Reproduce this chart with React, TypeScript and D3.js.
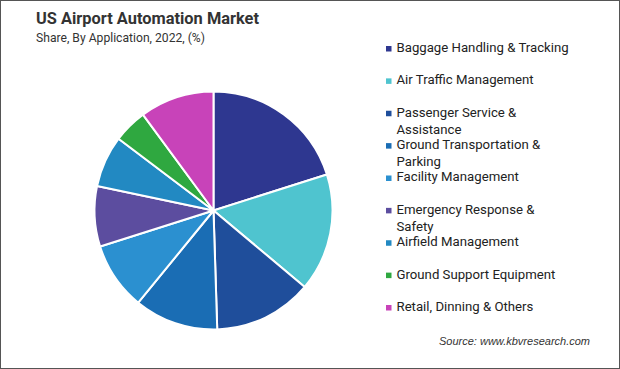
import React from 'react';
import * as d3 from 'd3';

const categories = [
  'Baggage Handling & Tracking',
  'Air Traffic Management',
  'Passenger Service & Assistance',
  'Ground Transportation & Parking',
  'Facility Management',
  'Emergency Response & Safety',
  'Airfield Management',
  'Ground Support Equipment',
  'Retail, Dinning & Others',
];
// legend lines (wrapped as in the source)
const legendLines = [
  ['Baggage Handling & Tracking'],
  ['Air Traffic Management'],
  ['Passenger Service &', 'Assistance'],
  ['Ground Transportation &', 'Parking'],
  ['Facility Management'],
  ['Emergency Response &', 'Safety'],
  ['Airfield Management'],
  ['Ground Support Equipment'],
  ['Retail, Dinning & Others'],
];
const shares = [20.1, 16.0, 13.4, 11.4, 9.2, 8.2, 7.0, 4.6, 10.1];
const colors = ['#2e3790', '#4fc4cf', '#1f4e9b', '#1a6db4', '#2b90d0', '#5c4d9f', '#2289c2', '#2fa840', '#c843b9'];

const W = 620;
const H = 369;
const cx = 213.5;
const cy = 210.5;
const R = 119;

export default function App() {
  const pie = d3.pie<number>().sort(null).value((d) => d)(shares);
  const arc = d3.arc<d3.PieArcDatum<number>>().innerRadius(0).outerRadius(R);
  const legendY = d3.scaleLinear().domain([0, categories.length - 1]).range([48.5, 307.5]);
  const font = 'Roboto, sans-serif';

  return (
    <div style={{ position: 'absolute', left: 0, top: 0 }}>
      <svg width={W} height={H} style={{ display: 'block', background: '#fff' }}>
        <rect x={0.5} y={0.5} width={W - 1} height={H - 1} fill="#fff" stroke="#555" strokeWidth={1} />
        <text x={36} y={24} fontFamily={font} fontWeight="bold" fontSize={17} fill="#333"
          textLength={223} lengthAdjust="spacingAndGlyphs">
          US Airport Automation Market
        </text>
        <text x={36} y={42} fontFamily={font} fontSize={13} fill="#333"
          textLength={169} lengthAdjust="spacingAndGlyphs">
          Share, By Application, 2022, (%)
        </text>

        <g transform={`translate(${cx}, ${cy})`}>
          {pie.map((p, i) => (
            <path key={categories[i]} d={arc(p) || ''} fill={colors[i]} stroke="#fff" strokeWidth={2} strokeLinejoin="round" />
          ))}
        </g>

        <g fontFamily={font} fontSize={13.2} fill="#222">
          {legendLines.map((lines, i) => (
            <g key={categories[i]} transform={`translate(386, ${legendY(i)})`}>
              <rect x={0} y={-2.5} width={5.5} height={5.5} fill={colors[i]} />
              {lines.map((l, j) => (
                <text key={j} x={10.5} y={j * 17} dominantBaseline="middle">
                  {l}
                </text>
              ))}
            </g>
          ))}
        </g>

        <text x={590} y={345} textAnchor="end" fontFamily='"Liberation Sans", Arial, sans-serif' fontStyle="italic" fontSize={11} fill="#333">
          Source: www.kbvresearch.com
        </text>
      </svg>
    </div>
  );
}
